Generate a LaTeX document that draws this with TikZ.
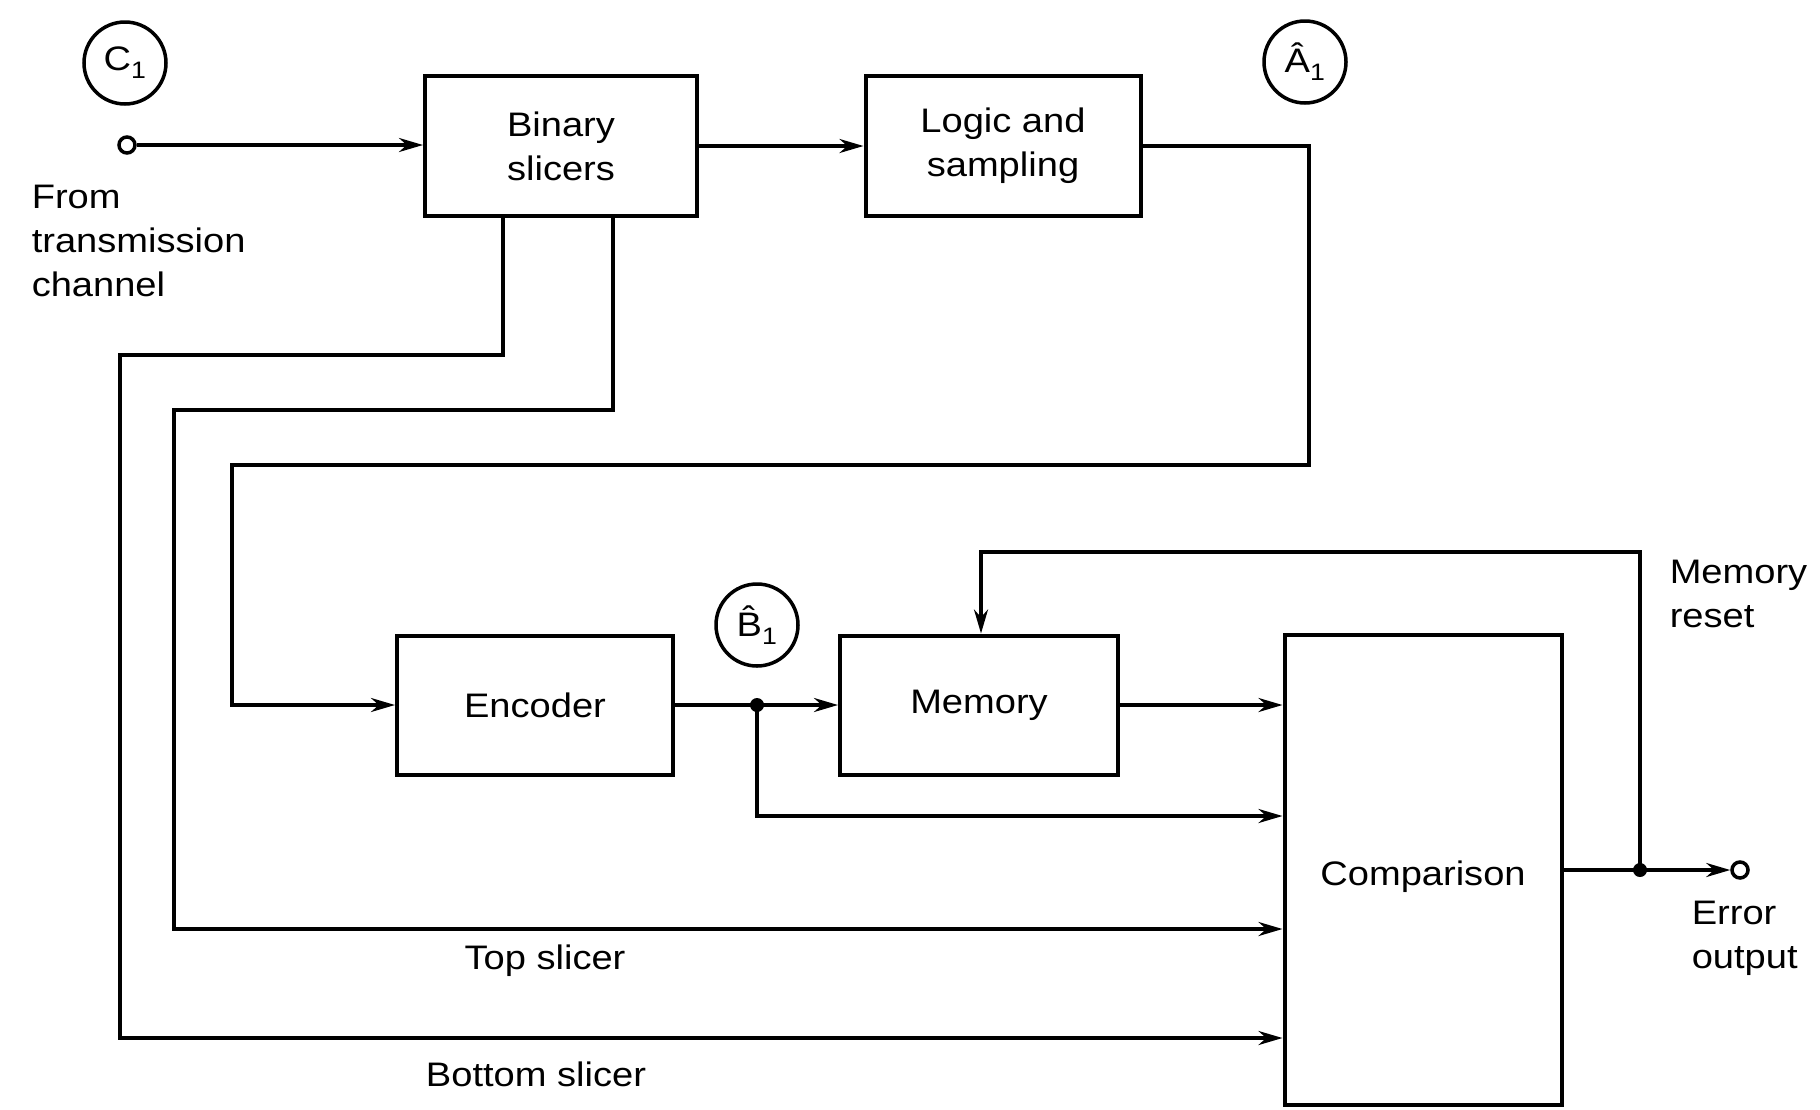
\documentclass[tikz,border=0pt]{standalone}
\usepackage{fontspec}
\setmainfont{Liberation Sans}[FakeStretch=1.12]
\usetikzlibrary{arrows.meta}
\begin{document}
\begin{tikzpicture}[x=1pt,y=-1pt,
  line width=3.5pt,
  every node/.style={font=\fontsize{34}{44}\selectfont},
  blk/.style={draw,line width=4pt,rectangle,align=center,inner sep=0pt},
  arr/.style={-{Stealth[length=24pt,width=14pt]},line join=miter},
  lbl/.style={draw,circle,line width=3.5pt,minimum size=82pt,inner sep=0pt,font=\fontsize{34}{36}\selectfont},
  term/.style={draw,circle,line width=3.5pt,minimum size=16pt,inner sep=0pt,fill=white},
  dot/.style={circle,fill=black,minimum size=14pt,inner sep=0pt},
  txt/.style={align=left,inner sep=0pt}]
\useasboundingbox[fill=white] (0,0) rectangle (1820,1109);

% blocks
\node[blk,minimum width=272pt,minimum height=140pt] (bin) at (561,146) {Binary\\slicers};
\node[blk,minimum width=275pt,minimum height=140pt] (logic) at (1003,146) {Logic and\\sampling};
\node[blk,minimum width=276pt,minimum height=139pt] (enc) at (535,705) {Encoder};
\node[blk,minimum width=278pt,minimum height=139pt] (mem) at (979,705) {Memory};
\node[blk,minimum width=277pt,minimum height=470pt] (cmp) at (1423,870) {};
\node[txt] (cmptext) at (1423,877) {Comparison};

% circle labels
\node[lbl] (c1) at (125,63) {C\textsubscript{1}};
\node[lbl] (a1) at (1305,62) {\^{A}\textsubscript{1}};
\node[lbl] (b1) at (757,625) {\^{B}\textsubscript{1}};

% terminals and junctions
\node[term] (in) at (127,145) {};
\node[dot] (j1) at (757,705) {};
\node[dot] (j2) at (1640,870) {};
\node[term] (out) at (1740,870) {};

% bend points
\coordinate (s1) at (503,355);
\coordinate (s1b) at (120,1038);
\coordinate (s2) at (613,410);
\coordinate (s2b) at (174,929);
\coordinate (l1) at (1309,465);
\coordinate (l2) at (232,465);
\coordinate (br) at (757,816);
\coordinate (r1) at (981,552);

% connectors
\draw[arr] (in.east) -- (bin.west |- in.east);
\draw[arr] (bin.east) -- (logic.west);
\draw[arr] (logic.east) -| (l1) -- (l2) |- (enc.west);
\draw (enc.east) -- (j1.center);
\draw[arr] (j1.center) -- (mem.west);
\draw[arr] (mem.east) -- (cmp.west |- mem.east);
\draw[arr] (j1.center) |- (cmp.west |- br);
\draw[arr] (bin.south -| s2) -- (s2) -| (s2b) -- (cmp.west |- s2b);
\draw[arr] (bin.south -| s1) -- (s1) -| (s1b) -- (cmp.west |- s1b);
\draw (cmp.east |- j2) -- (j2.center);
\draw[arr] (j2.center) -- (out.west);
\draw[arr] (j2.center) |- (r1) -- (mem.north -| r1);

% text labels
\node[txt,anchor=west] (from) at (30,241) {From\\transmission\\channel};
\node[txt] (top) at (545,961) {Top slicer};
\node[txt] (bot) at (536,1074) {Bottom slicer};
\node[txt,anchor=west] (reset) at (1668,594) {Memory\\reset};
\node[txt,anchor=west] (err) at (1690,938) {Error\\output};
\end{tikzpicture}
\end{document}
